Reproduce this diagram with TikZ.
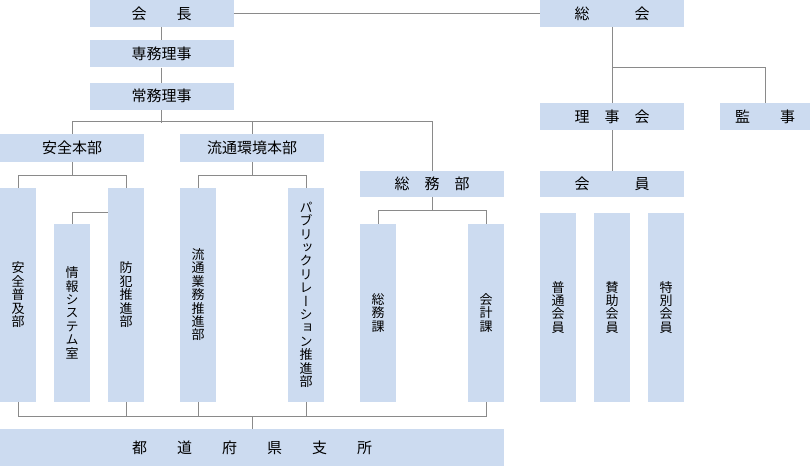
\documentclass[tikz,border=0pt]{standalone}
\usepackage{fontspec}
\usetikzlibrary{positioning}
\newfontfamily\jpfont{Noto Sans CJK JP}
\newfontfamily\jpvfont[RawFeature=+vert]{Noto Sans CJK JP}
\definecolor{boxblue}{HTML}{CCDBF0}
\definecolor{linegray}{HTML}{8A8A8A}
% vertical text: one character per line
\newcommand\tate[1]{\vbox{\baselineskip=13.4pt\lineskiplimit=-20pt\tateloop#1\relax}}
\def\tateloop#1{\ifx\relax#1\else\hbox to 14pt{\hss#1\hss}\expandafter\tateloop\fi}

\begin{document}
\begin{tikzpicture}[x=1pt, y=-1pt,
    yokobox/.style={rectangle, fill=boxblue, inner sep=0pt, minimum width=144pt, minimum height=27pt, font=\jpfont\fontsize{15}{15}\selectfont},
    tatebox/.style={rectangle, fill=boxblue, inner sep=0pt, minimum width=36pt, anchor=south, font=\jpvfont\fontsize{13}{13}\selectfont},
    conn/.style={draw=linegray, line width=0.9pt}]
    \useasboundingbox (0,0) rectangle (810,466);

    % Nodes
    \node (kaicho) [yokobox] at (161.5,13.5) {会　　長};
    \node (senmu) [yokobox, below=13pt of kaicho] {専務理事};
    \node (jomu) [yokobox, below=15pt of senmu] {常務理事};

    \node (anzen) [yokobox, minimum height=28pt] at (72,148) {安全本部};
    \node (ryutsu) [yokobox, minimum height=28pt] at (252,148) {流通環境本部};
    \node (somu) [yokobox, minimum height=26pt] at (432,184) {総　務　部};

    \node (sokai) [yokobox] at (612,13.5) {総　　　会};
    \node (rijikai) [yokobox] at (612,116.5) {理　事　会};
    \node (kanji) [yokobox, minimum width=90pt] at (765,116.5) {監　　事};
    \node (kaiin) [yokobox, minimum height=26pt] at (612,184) {会　　　員};

    \node (anzenfukyu) [tatebox, minimum height=214pt] at (18,402) {\tate{安全普及部}};
    \node (joho) [tatebox, minimum height=178pt] at (72,402) {\tate{情報システム室}};
    \node (bohan) [tatebox, minimum height=214pt] at (126,402) {\tate{防犯推進部}};
    \node (ryutsugyomu) [tatebox, minimum height=214pt] at (198,402) {\tate{流通業務推進部}};
    \node (pr) [tatebox, minimum height=214pt] at (306,402) {\tate{パブリックリレーション推進部}};
    \node (somuka) [tatebox, minimum height=178pt] at (378,402) {\tate{総務課}};
    \node (kaikei) [tatebox, minimum height=178pt] at (486,402) {\tate{会計課}};
    \node (futsu) [tatebox, minimum height=189pt] at (558,402) {\tate{普通会員}};
    \node (sanjo) [tatebox, minimum height=189pt] at (612,402) {\tate{賛助会員}};
    \node (tokubetsu) [tatebox, minimum height=189pt] at (666,402) {\tate{特別会員}};

    \node (shisho) [yokobox, minimum width=504pt, minimum height=37pt] at (252,447.5) {都　　道　　府　　県　　支　　所};

    \coordinate (johojoin) at (108,212);
    \coordinate (kanjijoin) at (612,67);

    % Connections
    \draw [conn] (kaicho) -- (sokai);
    \draw [conn] (kaicho) -- (senmu);
    \draw [conn] (senmu) -- (jomu);
    \draw [conn] (jomu.south) -- ++(0,13);
    \draw [conn] (anzen.north) -- ++(0,-12) -| (somu.north);
    \draw [conn] (ryutsu.north) -- ++(0,-12);

    \draw [conn] (anzen.south) -- ++(0,14);
    \draw [conn] (anzenfukyu.north) -- ++(0,-12) -| (bohan.north);
    \draw [conn] (joho.north) |- (johojoin);
    \draw [conn] (ryutsu.south) -- ++(0,14);
    \draw [conn] (ryutsugyomu.north) -- ++(0,-12) -| (pr.north);
    \draw [conn] (somu.south) -- ++(0,14);
    \draw [conn] (somuka.north) -- ++(0,-13) -| (kaikei.north);

    \draw [conn] (sokai) -- (rijikai);
    \draw [conn] (kanji.north) |- (kanjijoin);
    \draw [conn] (rijikai) -- (kaiin);

    \draw [conn] (anzenfukyu.south) -- ++(0,14) -| (kaikei.south);
    \draw [conn] (bohan.south) -- ++(0,14);
    \draw [conn] (ryutsugyomu.south) -- ++(0,14);
    \draw [conn] (pr.south) -- ++(0,14);
    \draw [conn] (shisho.north) -- ++(0,-13);
\end{tikzpicture}
\end{document}
